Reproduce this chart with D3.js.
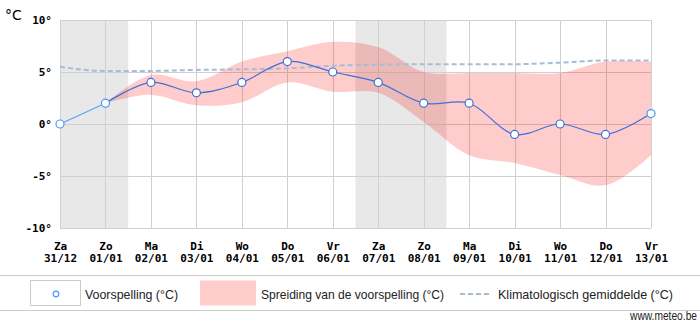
<!DOCTYPE html>
<html><head><meta charset="utf-8">
<script src="https://cdn.jsdelivr.net/npm/d3@7"></script>
<style>
html,body{margin:0;padding:0;background:#fff;}
svg{display:block;}
</style></head>
<body>
<svg id="chart" width="700" height="327"></svg>
<script>
// ---- data ----
const days = ["Za","Zo","Ma","Di","Wo","Do","Vr","Za","Zo","Ma","Di","Wo","Do","Vr"];
const dates = ["31/12","01/01","02/01","03/01","04/01","05/01","06/01","07/01","08/01","09/01","10/01","11/01","12/01","13/01"];
const forecast = [0, 2, 4, 3, 4, 6, 5, 4, 2, 2, -1, 0, -1, 1];
// spread (from Zo 01/01 onward)
const spreadLow  = [null, 2, 2.8, 1.8, 2.1, 4.0, 3.1, 3.0, 0.2, -3.0, -3.75, -4.9, -5.9, -3.0];
const spreadHigh = [null, 2, 4.7, 4.1, 6.0, 7.0, 7.9, 7.4, 5.0, 4.9, 4.9, 4.9, 6.0, 6.0];
const climate = [5.5, 5.1, 5.1, 5.2, 5.25, 5.35, 5.6, 5.7, 5.75, 5.75, 5.75, 5.9, 6.1, 6.1];
const weekends = [[0, 1], [7, 8]];
const yTicks = [-10, -5, 0, 5, 10];

// ---- layout ----
const L = 60, R = 651, T = 20, B = 228;
const svg = d3.select("#chart");
const x = d3.scaleLinear().domain([0, days.length - 1]).range([L, R]);
const y = d3.scaleLinear().domain([-10, 10]).range([B, T]);

// weekend shading
svg.append("g").selectAll("rect").data(weekends).join("rect")
  .attr("x", d => Math.max(L, x(d[0] - 0.5)))
  .attr("y", T)
  .attr("width", d => Math.min(R, x(d[1] + 0.5)) - Math.max(L, x(d[0] - 0.5)))
  .attr("height", B - T)
  .attr("fill", "#e8e8e8");

// grid
const grid = svg.append("g").attr("stroke", "#d0d0d0").attr("stroke-width", 1);
grid.selectAll("line.h").data(yTicks).join("line")
  .attr("x1", L).attr("x2", R)
  .attr("y1", d => Math.round(y(d)) + 0.5).attr("y2", d => Math.round(y(d)) + 0.5);
grid.selectAll("line.v").data(days.map((d, i) => i)).join("line")
  .attr("y1", T).attr("y2", B)
  .attr("x1", d => Math.round(x(d)) + 0.5).attr("x2", d => Math.round(x(d)) + 0.5);

// spread band
const idx = d3.range(1, days.length);
const area = d3.area()
  .x(i => x(i))
  .y0(i => y(spreadLow[i]))
  .y1(i => y(spreadHigh[i]))
  .curve(d3.curveCatmullRom.alpha(0.5));
svg.append("path").datum(idx).attr("d", area)
  .attr("fill", "rgba(255,0,0,0.2)");

// climatology
const climLine = d3.line().x((d, i) => x(i)).y(d => y(d)).curve(d3.curveMonotoneX);
svg.append("path").datum(climate).attr("d", climLine)
  .attr("fill", "none").attr("stroke", "#a8bcd4").attr("stroke-width", 2)
  .attr("stroke-dasharray", "5,3");

// forecast line
const fLine = d3.line().x(i => x(i)).y(i => y(forecast[i])).curve(d3.curveCatmullRom.alpha(0.5));
svg.append("path").datum([0, 1]).attr("d", fLine)
  .attr("fill", "none").attr("stroke", "#55a5ff").attr("stroke-width", 1.2);
svg.append("path").datum(idx).attr("d", fLine)
  .attr("fill", "none").attr("stroke", "#3f6fd8").attr("stroke-width", 1.2);

// markers
const light = new Set([0, 1, days.length - 1]);
svg.append("g").selectAll("circle").data(forecast.map((d, i) => i)).join("circle")
  .attr("cx", i => x(i)).attr("cy", i => y(forecast[i])).attr("r", 4)
  .attr("fill", "#fff")
  .attr("stroke", i => light.has(i) ? "#4499ff" : "#3f6fd8")
  .attr("stroke-width", 1.2);

// axes
const axisFont = "'DejaVu Sans Mono', monospace";
const yAxis = svg.append("g").attr("transform", `translate(${L},0)`)
  .call(d3.axisLeft(y).tickValues(yTicks).tickSize(0).tickPadding(8).tickFormat(d => `${d}°`));
yAxis.select(".domain").remove();
yAxis.selectAll("text").attr("font-family", axisFont).attr("font-size", 11)
  .attr("font-weight", "bold").attr("fill", "#000");

const xAxis = svg.append("g").attr("transform", `translate(0,${B})`)
  .call(d3.axisBottom(x).tickValues(d3.range(days.length)).tickSize(0).tickPadding(14).tickFormat(i => days[i]));
xAxis.select(".domain").remove();
xAxis.selectAll("text").each(function(i) {
  const t = d3.select(this);
  t.text(null);
  t.append("tspan").attr("x", 0).text(days[i]);
  t.append("tspan").attr("x", 0).attr("dy", 12).text(dates[i]);
}).attr("font-family", axisFont).attr("font-size", 11).attr("font-weight", "bold").attr("fill", "#000");

// unit label
svg.append("text").attr("x", 5).attr("y", 20).text("°C")
  .attr("font-family", "'DejaVu Sans', sans-serif").attr("font-size", 14).attr("fill", "#000");

// legend
const lg = svg.append("g");
lg.append("line").attr("x1", 0).attr("x2", 700).attr("y1", 275.5).attr("y2", 275.5).attr("stroke", "#ccc");
lg.append("line").attr("x1", 0).attr("x2", 700).attr("y1", 310.5).attr("y2", 310.5).attr("stroke", "#ccc");
lg.append("rect").attr("x", 30.5).attr("y", 280.5).attr("width", 50).attr("height", 25)
  .attr("fill", "#fff").attr("stroke", "#ccc");
lg.append("circle").attr("cx", 56).attr("cy", 294).attr("r", 2.8)
  .attr("fill", "#fff").attr("stroke", "#4499ff").attr("stroke-width", 1.2);
lg.append("rect").attr("x", 200).attr("y", 280.5).attr("width", 56).attr("height", 25).attr("fill", "#ffcccc");
lg.append("line").attr("x1", 460).attr("x2", 490).attr("y1", 294).attr("y2", 294)
  .attr("stroke", "#a8bcd4").attr("stroke-width", 2).attr("stroke-dasharray", "5,3");
const legendTexts = [
  {t: "Voorspelling (°C)", x: 85, w: 93},
  {t: "Spreiding van de voorspelling (°C)", x: 261, w: 183},
  {t: "Klimatologisch gemiddelde (°C)", x: 498, w: 175}
];
lg.selectAll("text.l").data(legendTexts).join("text")
  .attr("x", d => d.x).attr("y", 299).text(d => d.t)
  .attr("textLength", d => d.w).attr("lengthAdjust", "spacingAndGlyphs")
  .attr("font-family", "'Liberation Sans', Arial, sans-serif").attr("font-size", 13).attr("fill", "#222");
svg.append("text").attr("x", 697).attr("y", 320).attr("text-anchor", "end").text("www.meteo.be")
  .attr("textLength", 67).attr("lengthAdjust", "spacingAndGlyphs")
  .attr("font-family", "'Liberation Sans', Arial, sans-serif").attr("font-size", 12).attr("fill", "#222");
</script>
</body></html>
